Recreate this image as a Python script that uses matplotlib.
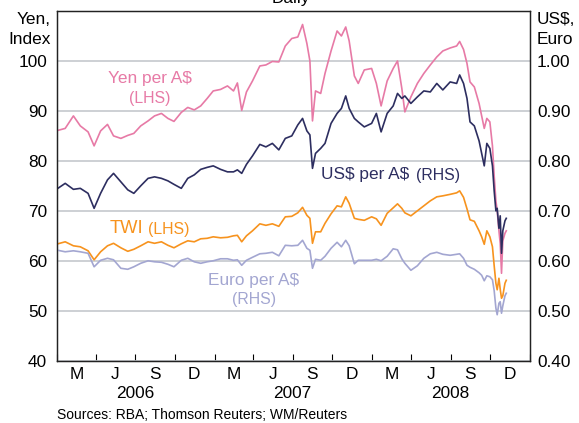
import pandas as pd
import matplotlib
matplotlib.use("Agg")
import matplotlib.pyplot as plt
import matplotlib.dates as mdates
from matplotlib.transforms import blended_transform_factory

plt.rcParams['font.family'] = ['Liberation Sans', 'DejaVu Sans']

# daily series at roughly fortnightly points plus turning points
dates = [
    '2006-01-03', '2006-01-20', '2006-02-08', '2006-02-24', '2006-03-14', '2006-03-28',
    '2006-04-12', '2006-04-28', '2006-05-12', '2006-05-29', '2006-06-14', '2006-06-28',
    '2006-07-14', '2006-07-31', '2006-08-15', '2006-08-31', '2006-09-15', '2006-09-29',
    '2006-10-16', '2006-10-31', '2006-11-15', '2006-11-30', '2006-12-15', '2006-12-29',
    '2007-01-15', '2007-01-31', '2007-02-14', '2007-02-23', '2007-03-05', '2007-03-16',
    '2007-03-30', '2007-04-16', '2007-04-30', '2007-05-15', '2007-05-30', '2007-06-14',
    '2007-06-29', '2007-07-13', '2007-07-24', '2007-08-03', '2007-08-10', '2007-08-16',
    '2007-08-23', '2007-09-04', '2007-09-14', '2007-09-28', '2007-10-12', '2007-10-22',
    '2007-11-01', '2007-11-09', '2007-11-21', '2007-11-30', '2007-12-14', '2007-12-31',
    '2008-01-11', '2008-01-22', '2008-02-05', '2008-02-19', '2008-02-29', '2008-03-10',
    '2008-03-17', '2008-03-31', '2008-04-15', '2008-04-30', '2008-05-15', '2008-05-30',
    '2008-06-13', '2008-06-30', '2008-07-15', '2008-07-22', '2008-07-31', '2008-08-08',
    '2008-08-15', '2008-08-25', '2008-09-05', '2008-09-11', '2008-09-17', '2008-09-23',
    '2008-09-30', '2008-10-06', '2008-10-10', '2008-10-14', '2008-10-17', '2008-10-21',
    '2008-10-24', '2008-10-27', '2008-10-30', '2008-11-04', '2008-11-07',
]

yen = [
    86.1, 86.5, 89.0, 87.0, 85.8, 83.0, 86.0, 87.3, 85.0, 84.5, 85.1, 85.5,
    87.0, 88.0, 89.0, 89.5, 88.5, 87.9, 89.7, 90.7, 90.2, 91.0, 92.5, 94.0,
    94.3, 95.0, 94.0, 95.6, 90.1, 93.8, 96.0, 99.0, 99.2, 99.9, 99.8, 103.0,
    104.5, 104.8, 107.3, 103.5, 100.0, 88.0, 94.0, 93.5, 97.5, 102.0, 106.0, 105.0,
    106.8, 104.0, 97.0, 95.5, 98.2, 98.5, 95.5, 91.0, 96.0, 98.5, 100.0, 94.5,
    89.8, 92.8, 95.5, 97.5, 99.2, 100.8, 102.0, 102.6, 103.0, 103.9, 102.3, 99.5,
    95.8, 94.8, 91.5, 89.0, 86.5, 88.5, 87.8, 83.0, 77.0, 72.0, 70.0, 66.0,
    63.5, 57.5, 64.0, 65.5, 66.0,
]

usd = [
    0.745, 0.755, 0.743, 0.745, 0.735, 0.705, 0.735, 0.762, 0.775, 0.758, 0.742, 0.735,
    0.750, 0.765, 0.768, 0.765, 0.760, 0.753, 0.745, 0.765, 0.772, 0.783, 0.787, 0.790,
    0.783, 0.778, 0.778, 0.782, 0.775, 0.793, 0.810, 0.833, 0.828, 0.835, 0.822, 0.845,
    0.850, 0.872, 0.885, 0.860, 0.852, 0.785, 0.815, 0.825, 0.835, 0.875, 0.895, 0.905,
    0.930, 0.905, 0.885, 0.878, 0.868, 0.875, 0.895, 0.858, 0.895, 0.910, 0.935, 0.925,
    0.930, 0.915, 0.928, 0.940, 0.938, 0.955, 0.942, 0.958, 0.955, 0.972, 0.955, 0.925,
    0.878, 0.870, 0.840, 0.815, 0.790, 0.835, 0.825, 0.790, 0.740, 0.700, 0.705, 0.665,
    0.690, 0.615, 0.660, 0.680, 0.685,
]

twi = [
    63.4, 63.8, 63.0, 62.8, 62.0, 60.2, 61.8, 63.0, 63.5, 62.6, 61.9, 62.3,
    63.0, 63.8, 63.5, 63.8, 63.1, 62.6, 63.4, 64.0, 63.8, 64.4, 64.5, 64.8,
    64.6, 64.7, 65.0, 65.1, 63.8, 65.0, 66.0, 67.4, 67.1, 67.4, 66.9, 68.8,
    68.9, 69.6, 70.7, 69.1, 68.5, 63.5, 65.8, 65.8, 67.5, 69.4, 71.0, 70.8,
    72.8, 71.5, 68.5, 68.3, 68.1, 68.8, 68.4, 67.1, 69.5, 70.6, 71.4, 70.5,
    69.6, 69.0, 70.0, 71.0, 72.0, 72.8, 73.0, 73.3, 73.6, 74.0, 72.7, 70.4,
    68.2, 67.9, 66.0, 64.8, 63.3, 66.0, 64.8, 62.8, 59.0, 55.5, 54.2, 56.5,
    54.3, 52.5, 53.0, 55.5, 56.1,
]

euro = [
    0.621, 0.618, 0.620, 0.618, 0.615, 0.588, 0.601, 0.605, 0.602, 0.585, 0.583, 0.588,
    0.595, 0.600, 0.598, 0.597, 0.593, 0.588, 0.601, 0.605, 0.598, 0.595, 0.598, 0.600,
    0.604, 0.604, 0.601, 0.602, 0.591, 0.601, 0.607, 0.614, 0.615, 0.617, 0.610, 0.631,
    0.630, 0.631, 0.641, 0.625, 0.621, 0.585, 0.603, 0.601, 0.609, 0.625, 0.637, 0.628,
    0.641, 0.630, 0.594, 0.601, 0.601, 0.601, 0.603, 0.600, 0.609, 0.624, 0.622, 0.604,
    0.595, 0.581, 0.590, 0.605, 0.614, 0.617, 0.613, 0.611, 0.613, 0.614, 0.605, 0.591,
    0.587, 0.583, 0.576, 0.571, 0.560, 0.570, 0.568, 0.562, 0.540, 0.505, 0.492, 0.515,
    0.518, 0.495, 0.510, 0.530, 0.535,
]

left_ticks = [40, 50, 60, 70, 80, 90, 100]
right_ticks = [0.40, 0.50, 0.60, 0.70, 0.80, 0.90, 1.00]
quarter_letters = ['M', 'J', 'S', 'D']
years = [2006, 2007, 2008]

PINK = '#e77aa6'
NAVY = '#2d2e60'
ORANGE = '#f7931e'
LAVENDER = '#a3a6d1'
GRID = '#c9cdd1'
FS = 12.4
FS_SMALL = 11.4

W, H = 579, 423
fig = plt.figure(figsize=(W / 100, H / 100), dpi=100)
ax = fig.add_axes([57 / W, 1 - 360.7 / H, (530 - 57) / W, (360.7 - 11) / H])
ax2 = ax.twinx()

x = pd.to_datetime(dates)
ax.plot(x, yen, color=PINK, lw=1.2)
ax.plot(x, twi, color=ORANGE, lw=1.2)
ax2.plot(x, euro, color=LAVENDER, lw=1.2)
ax2.plot(x, usd, color=NAVY, lw=1.2)

ax.set_ylim(40, 110)
ax2.set_ylim(0.40, 1.10)
ax.set_yticks(left_ticks)
ax.set_yticklabels([str(v) for v in left_ticks])
ax2.set_yticks(right_ticks)
ax2.set_yticklabels(['%.2f' % v for v in right_ticks])
ax.tick_params(axis='y', length=0, pad=7.2, labelsize=FS)
ax2.tick_params(axis='y', length=0, pad=5, labelsize=FS)
ax.yaxis.grid(True, color=GRID, lw=1.3)
ax.set_axisbelow(True)

start, end = pd.Timestamp('2006-01-01'), pd.Timestamp('2009-01-01')
ax.set_xlim(start, end)
qstarts = pd.date_range(start, end, freq='QS')
ax.set_xticks(qstarts)
ax.set_xticklabels([])
mids = [q + pd.Timedelta(days=45) for q in qstarts[:-1]]
ax.set_xticks(mids, minor=True)
ax.set_xticklabels([quarter_letters[i % 4] for i in range(len(mids))], minor=True)
ax.tick_params(axis='x', which='major', direction='in', length=5, width=0.8)
ax.tick_params(axis='x', which='minor', length=0, pad=4.6, labelsize=FS)

for a in (ax, ax2):
    for s in a.spines.values():
        s.set_linewidth(0.9)
        s.set_color('#222222')

trans = blended_transform_factory(ax.transData, ax.transAxes)
for yr in years:
    ax.text(mdates.date2num(pd.Timestamp(f'{yr}-07-01')), -0.094, str(yr),
            transform=trans, ha='center', va='center', fontsize=FS)


def fx(px):
    return px / W


def fy(py):
    return 1 - py / H


fig.text(fx(291), fy(3.5), 'Daily', ha='center', va='baseline', fontsize=FS)
fig.text(fx(50.5), fy(20), 'Yen,', ha='right', va='center', fontsize=FS)
fig.text(fx(51), fy(39), 'Index', ha='right', va='center', fontsize=FS)
fig.text(fx(537), fy(20), 'US$,', ha='left', va='center', fontsize=FS)
fig.text(fx(537), fy(39), 'Euro', ha='left', va='center', fontsize=FS)

fig.text(fx(150), fy(78), 'Yen per A$', color=PINK, ha='center', va='center', fontsize=FS)
fig.text(fx(150), fy(99), '(LHS)', color=PINK, ha='center', va='center', fontsize=FS_SMALL)
fig.text(fx(321), fy(174), 'US\\$ per A\\$', color=NAVY, ha='left', va='center', fontsize=FS)
fig.text(fx(416), fy(175), '(RHS)', color=NAVY, ha='left', va='center', fontsize=FS_SMALL)
fig.text(fx(110), fy(228), 'TWI', color=ORANGE, ha='left', va='center', fontsize=13.2)
fig.text(fx(148), fy(229), '(LHS)', color=ORANGE, ha='left', va='center', fontsize=FS_SMALL)
fig.text(fx(254), fy(280), 'Euro per A$', color=LAVENDER, ha='center', va='center', fontsize=FS)
fig.text(fx(254), fy(299), '(RHS)', color=LAVENDER, ha='center', va='center', fontsize=FS_SMALL)

fig.text(fx(57), fy(415), 'Sources: RBA; Thomson Reuters; WM/Reuters', ha='left', va='center',
         fontsize=10)

fig.savefig('out.png', dpi=100)
